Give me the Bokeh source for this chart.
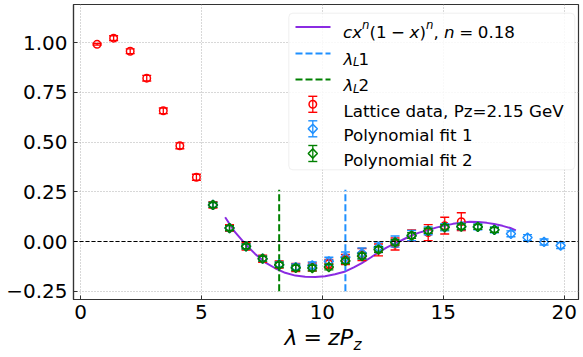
import numpy as np
from bokeh.plotting import figure
from bokeh.models import (Range1d, FixedTicker, CustomJSTickFormatter, Span,
                          BoxAnnotation, Label, Div)
from bokeh.layouts import column
from bokeh.embed import file_html
from bokeh.resources import INLINE

# ---------------- data ----------------
lam = [0.685, 1.369, 2.054, 2.738, 3.423, 4.107, 4.792, 5.476, 6.161, 6.845,
       7.530, 8.214, 8.899, 9.583, 10.268, 10.952, 11.637, 12.321, 13.006,
       13.690, 14.375, 15.059, 15.744, 16.428, 17.113, 17.797, 18.482,
       19.166, 19.851]

# Lattice data (n = 1..23)
red_x = lam[0:23]
red_y = [0.991, 1.022, 0.956, 0.821, 0.657, 0.481, 0.323, 0.184, 0.068,
         -0.024, -0.086, -0.115, -0.130, -0.128, -0.112, -0.090, -0.065,
         -0.042, -0.012, 0.030, 0.045, 0.080, 0.100]
red_err = [0.004, 0.012, 0.012, 0.014, 0.014, 0.015, 0.015, 0.016, 0.017,
           0.018, 0.018, 0.018, 0.020, 0.020, 0.022, 0.025, 0.030, 0.030,
           0.030, 0.029, 0.040, 0.042, 0.045]

# Polynomial fit 1 (n = 8..29)
blue_x = lam[7:29]
blue_y = [0.184, 0.068, -0.024, -0.086, -0.115, -0.128, -0.120, -0.099,
          -0.079, -0.059, -0.029, 0.000, 0.030, 0.054, 0.072, 0.076, 0.074,
          0.059, 0.039, 0.020, -0.002, -0.020]
blue_err = [0.012, 0.012, 0.012, 0.012, 0.013, 0.015, 0.018, 0.020, 0.027,
            0.027, 0.026, 0.028, 0.026, 0.020, 0.018, 0.016, 0.015, 0.015,
            0.015, 0.015, 0.015, 0.015]

# Polynomial fit 2 (n = 8..25)
green_x = lam[7:25]
green_y = [0.184, 0.068, -0.024, -0.086, -0.117, -0.132, -0.133, -0.128,
           -0.097, -0.073, -0.040, -0.004, 0.030, 0.054, 0.072, 0.075, 0.074,
           0.059]
green_err = [0.012, 0.012, 0.012, 0.012, 0.013, 0.013, 0.014, 0.014, 0.014,
             0.014, 0.014, 0.014, 0.014, 0.013, 0.013, 0.013, 0.012, 0.012]

# c x^n (1-x)^n, n = 0.18 curve
curve_x = [5.98, 6.39, 6.81, 7.22, 7.63, 8.05, 8.46, 8.88, 9.29, 9.70, 10.11,
           10.52, 10.95, 11.30, 11.63, 12.00, 12.31, 12.65, 12.98, 13.30,
           13.67, 14.00, 14.36, 14.70, 15.04, 15.40, 15.73, 16.10, 16.45,
           16.80, 17.10, 17.45, 17.77, 18.00]
curve_y = [0.122, 0.047, -0.012, -0.062, -0.104, -0.134, -0.157, -0.171,
           -0.177, -0.178, -0.174, -0.164, -0.150, -0.130, -0.108, -0.080,
           -0.055, -0.030, -0.010, 0.008, 0.030, 0.045, 0.057, 0.070, 0.080,
           0.089, 0.095, 0.099, 0.098, 0.094, 0.088, 0.079, 0.068, 0.056]

lamL1 = 10.952
lamL2 = 8.214
vline_lo, vline_hi = -0.25, 0.26

x_ticks = [0, 5, 10, 15, 20]
y_ticks = [-0.25, 0.0, 0.25, 0.5, 0.75, 1.0]

leg_simple = ["Lattice data, Pz=2.15 GeV", "Polynomial fit 1", "Polynomial fit 2"]

# ---------------- styles / layout ----------------
RED, BLUE, GREEN, PURPLE = "#ff0000", "#1e90ff", "#008000", "#8a2be2"
FONT = "DejaVu Sans"
W = 583
FIG_H = 328          # figure part; the x-axis title sits in a Div below
DIV_H = 357 - FIG_H
ML, MR, MT, MB = 73, 5, 4, 29
FL, FT, FW, FH = ML, MT, W - ML - MR, FIG_H - MT - MB
X0, X1 = -0.29, 20.59
Y0, Y1 = -0.291, 1.191


def cx(px):
    return X0 + (px - FL) / FW * (X1 - X0)


def cy(py):
    return Y1 - (py - FT) / FH * (Y1 - Y0)


p = figure(width=W, height=FIG_H, x_range=Range1d(X0, X1), y_range=Range1d(Y0, Y1),
           output_backend="svg", toolbar_location=None,
           min_border_left=ML, min_border_right=MR, min_border_top=MT,
           min_border_bottom=MB)
p.background_fill_color = "white"
p.border_fill_color = "white"
p.outline_line_color = "#333333"
p.outline_line_width = 1.2
p.outline_line_alpha = 1.0

p.xaxis.ticker = FixedTicker(ticks=x_ticks)
p.yaxis.ticker = FixedTicker(ticks=y_ticks)
p.xaxis.formatter = CustomJSTickFormatter(code="return tick.toFixed(0).replace('-', '\u2212')")
p.yaxis.formatter = CustomJSTickFormatter(code="return tick.toFixed(2).replace('-', '\u2212')")
for ax in (p.xaxis, p.yaxis):
    ax.major_label_text_font = FONT
    ax.major_label_text_font_size = "20px"
    ax.major_label_text_color = "black"
    ax.axis_line_color = "#333333"
    ax.axis_line_width = 1.2
    ax.major_tick_in = 4
    ax.major_tick_out = 0
    ax.major_tick_line_color = "#333333"
    ax.minor_tick_line_color = None
p.xaxis.major_label_standoff = 5
p.yaxis.major_label_standoff = 6

for g in (p.xgrid, p.ygrid):
    g.grid_line_color = "#b0b0b0"
    g.grid_line_dash = "1 2"
    g.grid_line_width = 1

# zero line
p.add_layout(Span(location=0, dimension="width", line_color="black",
                  line_dash="4 2", line_width=1.1))

# curve and vertical lines
p.line(curve_x, curve_y, line_color=PURPLE, line_width=2)
p.segment([lamL1], [vline_lo], [lamL1], [vline_hi], line_color=BLUE,
          line_width=2, line_dash="7 3")
p.segment([lamL2], [vline_lo], [lamL2], [vline_hi], line_color=GREEN,
          line_width=2, line_dash="7 3")


def errorbar(x, y, e, color, marker, level="glyph"):
    x = np.asarray(x, float)
    y = np.asarray(y, float)
    e = np.asarray(e, float)
    rs = []
    rs.append(p.segment(x, y - e, x, y + e, line_color=color, line_width=1.3))
    rs.append(p.scatter(x, y - e, marker="dash", size=9, line_color=color, line_width=1.4))
    rs.append(p.scatter(x, y + e, marker="dash", size=9, line_color=color, line_width=1.4))
    if marker == "circle":
        rs.append(p.scatter(x, y, marker="circle", size=7.5, line_color=color,
                            fill_color=None, line_width=1.5))
    else:
        rs.append(p.scatter(x, y, marker="square", angle=np.pi / 4, size=6.5,
                            line_color=color, fill_color=None, line_width=1.5))
    for r in rs:
        r.level = level


errorbar(red_x, red_y, red_err, RED, "circle")
errorbar(blue_x, blue_y, blue_err, BLUE, "diamond")
errorbar(green_x, green_y, green_err, GREEN, "diamond")


def lab(px, py, text, size, style="normal", color="black"):
    p.add_layout(Label(x=cx(px), y=cy(py), text=text, text_font=FONT,
                       text_font_size=size, text_font_style=style,
                       text_color=color, text_baseline="alphabetic",
                       text_align="left", level="overlay"))


# ---------------- legend ----------------
p.add_layout(BoxAnnotation(left=cx(288.3), right=cx(574.3), top=cy(12.7),
                           bottom=cy(169.3), fill_color="white", fill_alpha=0.85,
                           line_color="#cccccc", line_width=1, border_radius=4))

r = p.line([cx(295), cx(330)], [cy(26.5), cy(26.5)], line_color=PURPLE, line_width=2)
r.level = "overlay"
r = p.line([cx(295), cx(330)], [cy(53), cy(53)], line_color=BLUE, line_width=2, line_dash="7 3")
r.level = "overlay"
r = p.line([cx(295), cx(330)], [cy(79), cy(79)], line_color=GREEN, line_width=2, line_dash="7 3")
r.level = "overlay"

LF = "16.7px"
SF = "11.7px"
B1 = 31.5
SUP = 24.5
# c x^n (1 - x)^n, n = 0.18   (pieces placed with DejaVu Sans advances)
lab(342.5, B1, "cx", LF, "italic")
lab(361.6, SUP, "n", SF, "italic")
lab(369.0, B1, "(1", LF)
lab(390.6, B1, "\u2212", LF)
lab(409.1, B1, "x", LF, "italic")
lab(419.0, B1, ")", LF)
lab(425.5, SUP, "n", SF, "italic")
lab(432.9, B1, ",", LF)
lab(443.5, B1, "n", LF, "italic")
lab(458.7, B1, "=", LF)
lab(477.3, B1, "0.18", LF)

for base, digit in ((58, "1"), (84.5, "2")):
    lab(343.0, base, "λ", LF, "italic")
    lab(352.5, base + 3.5, "L", SF, "italic")
    lab(358.0, base, digit, LF)

for (base, cyc, col, mk, txt) in ((110, 103.8, RED, "circle", leg_simple[0]),
                                  (134.5, 128.3, BLUE, "diamond", leg_simple[1]),
                                  (159, 153, GREEN, "diamond", leg_simple[2])):
    lab(343.0, base, txt, LF)
    yc = cy(cyc)
    e = cy(cyc - 8) - yc
    errorbar([cx(312.3)], [yc], [e], col, mk, level="overlay")

# ---------------- x-axis title: λ = zP_z (below the figure) ----------------
xlabel_pieces = [(284.5, "λ", 22.0, "italic", 346.0),
                 (303.6, "=", 22.0, "normal", 346.0),
                 (328.1, "zP", 22.0, "italic", 346.0),
                 (353.5, "z", 15.4, "italic", 350.6)]
spans = []
for left, txt, fs, style, base in xlabel_pieces:
    top = (base - FIG_H) - (5.0 + 0.346 * fs)
    spans.append(
        f'<span style="position:absolute;left:{left:.1f}px;top:{top:.2f}px;'
        f'font-size:{fs}px;line-height:10px;font-style:{style};'
        f'white-space:nowrap;">{txt}</span>')
html = ('<div style="position:relative;width:%dpx;height:%dpx;'
        'font-family:\'DejaVu Sans\';color:#000;">%s</div>'
        % (W, DIV_H, "".join(spans)))
div = Div(text=html, width=W, height=DIV_H, margin=0)

layout = column(p, div, spacing=0)
open("out.html", "w").write(file_html(layout, INLINE))
